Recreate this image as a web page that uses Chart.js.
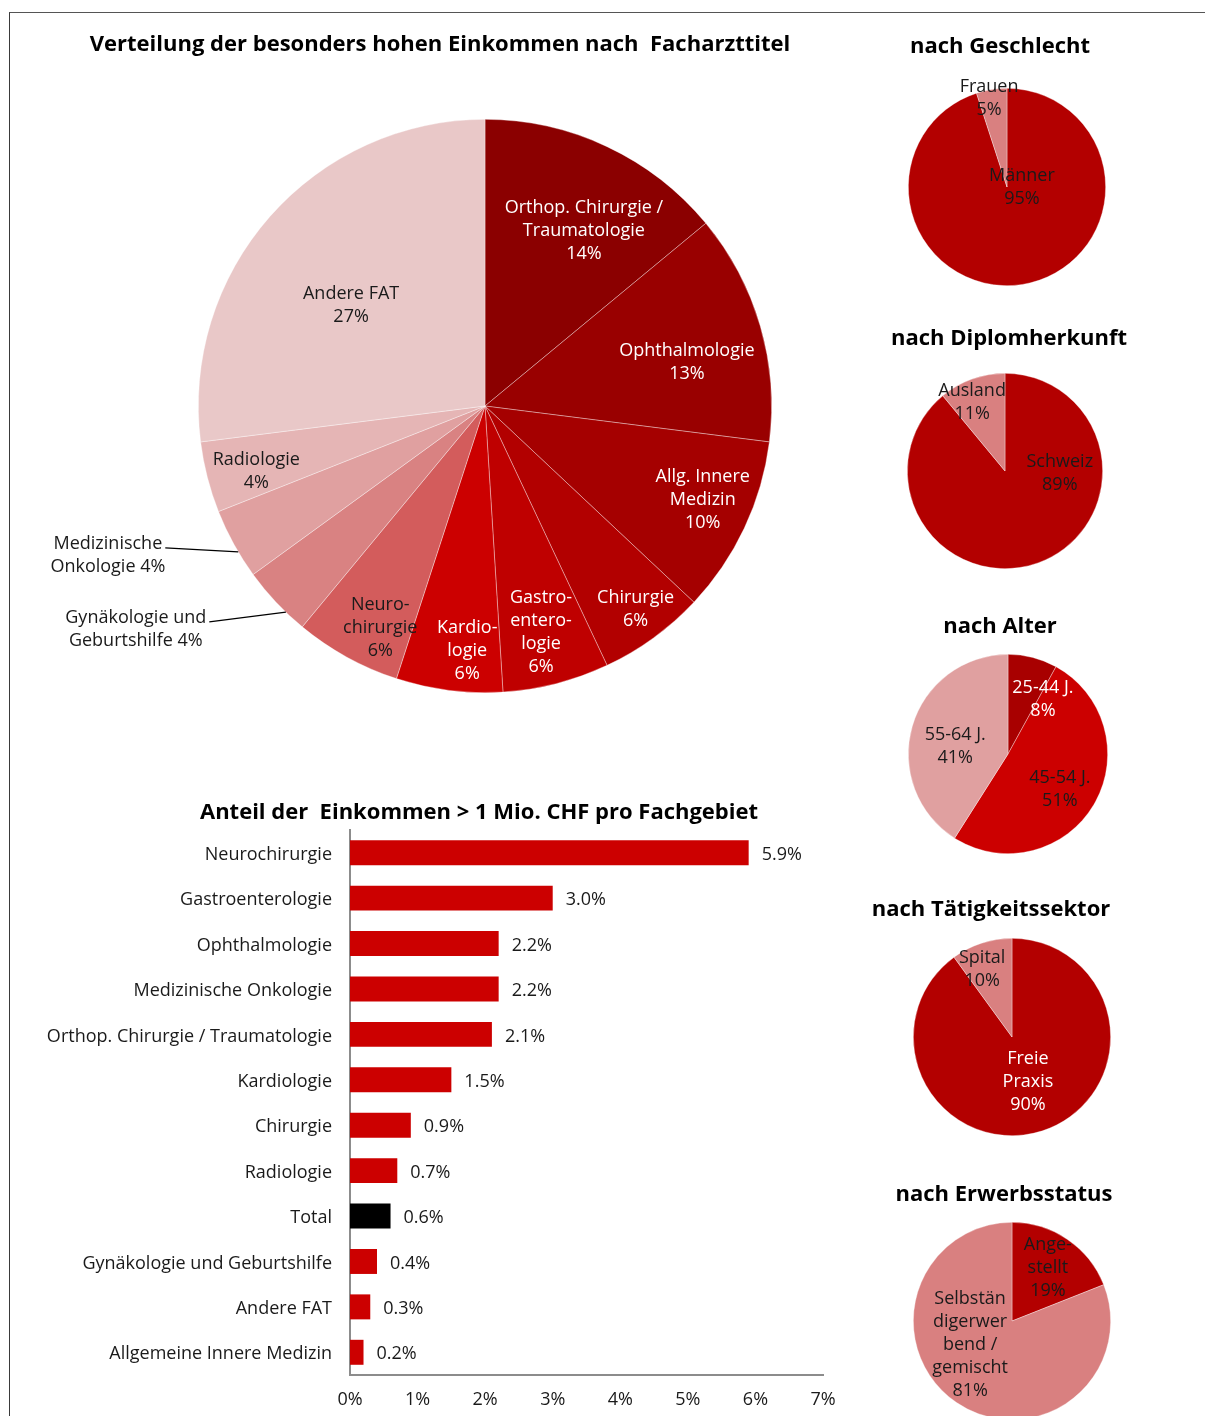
<!DOCTYPE html>
<html lang="de">
<head>
<meta charset="utf-8">
<title>Besonders hohe Einkommen nach Facharzttitel</title>
<script src="https://cdn.jsdelivr.net/npm/chart.js@4.4.1/dist/chart.umd.min.js"></script>
<style>
  html, body { margin: 0; padding: 0; width: 1205px; height: 1416px; overflow: hidden; background: #fff; }
  #page { position: relative; width: 1205px; height: 1416px; overflow: hidden; }
  #frame { position: absolute; left: 9px; top: 12px; width: 1300px; height: 1500px;
           border-top: 1px solid #555; border-left: 1px solid #3a3a3a; }
  canvas { position: absolute; left: 0; top: 0; }
</style>
</head>
<body>
<div id="page">
  <div id="frame"></div>
  <canvas id="pieFach" width="1205" height="1430"></canvas>
  <canvas id="barFach" width="1205" height="1430"></canvas>
  <canvas id="pieGeschlecht" width="1205" height="1430"></canvas>
  <canvas id="pieDiplom" width="1205" height="1430"></canvas>
  <canvas id="pieAlter" width="1205" height="1430"></canvas>
  <canvas id="pieSektor" width="1205" height="1430"></canvas>
  <canvas id="pieErwerb" width="1205" height="1430"></canvas>
</div>
<script>
// ---- Data ---------------------------------------------------------------
const fachLabels = [
  ['Orthop. Chirurgie /', 'Traumatologie'],
  ['Ophthalmologie'],
  ['Allg. Innere', 'Medizin'],
  ['Chirurgie'],
  ['Gastro-', 'entero-', 'logie'],
  ['Kardio-', 'logie'],
  ['Neuro-', 'chirurgie'],
  ['Gynäkologie und', 'Geburtshilfe'],
  ['Medizinische', 'Onkologie'],
  ['Radiologie'],
  ['Andere FAT']
];
const fachShares = [14, 13, 10, 6, 6, 6, 6, 4, 4, 4, 27];

const barCategories = [
  'Neurochirurgie', 'Gastroenterologie', 'Ophthalmologie', 'Medizinische Onkologie',
  'Orthop. Chirurgie / Traumatologie', 'Kardiologie', 'Chirurgie', 'Radiologie',
  'Total', 'Gynäkologie und Geburtshilfe', 'Andere FAT', 'Allgemeine Innere Medizin'
];
const barValues = [5.9, 3.0, 2.2, 2.2, 2.1, 1.5, 0.9, 0.7, 0.6, 0.4, 0.3, 0.2];
const barTickMax = 7;

const geschlechtLabels = [['Männer'], ['Frauen']];
const geschlechtValues = [95, 5];

const diplomLabels = [['Schweiz'], ['Ausland']];
const diplomValues = [89, 11];

const alterLabels = [['25-44 J.'], ['45-54 J.'], ['55-64 J.']];
const alterValues = [8, 51, 41];

const sektorLabels = [['Freie', 'Praxis'], ['Spital']];
const sektorValues = [90, 10];

const erwerbLabels = [['Ange-', 'stellt'], ['Selbstän', 'digerwer', 'bend /', 'gemischt']];
const erwerbValues = [19, 81];

// ---- Shared styling -----------------------------------------------------
const FONT = '"Open Sans", "Noto Sans", "DejaVu Sans", sans-serif';
const TEXT = '#1a1a1a';
const LINE_H = 23;
const TEXT_DY = 2;      // optical centring of canvas text
const PAGE_H = 1430;
const PAGE_W = 1205;

// Draws a title and the slice labels of a pie; label placement is given
// as a fraction of the radius along the slice's middle angle (+ a small turn).
const pieLabelPlugin = {
  id: 'pieLabels',
  afterDatasetsDraw(chart, args, opts) {
    const ctx = chart.ctx;
    const meta = chart.getDatasetMeta(0);
    const values = chart.data.datasets[0].data;
    ctx.save();
    ctx.textAlign = 'center';
    ctx.textBaseline = 'middle';
    meta.data.forEach((arc, i) => {
      const p = arc.getProps(['x', 'y', 'startAngle', 'endAngle', 'outerRadius'], true);
      const place = opts.place[i];
      const a = (p.startAngle + p.endAngle) / 2 + (place.shift || 0) * Math.PI / 180;
      const pct = values[i] + '%';
      ctx.font = opts.size + 'px ' + FONT;
      if (place.leader) {
        // label outside the pie, joined by a leader line
        const ex = p.x + Math.cos(a) * p.outerRadius;
        const ey = p.y + Math.sin(a) * p.outerRadius;
        const lx = ex + place.leader[0];
        const ly = ey + place.leader[1];
        ctx.strokeStyle = '#000';
        ctx.lineWidth = 1.2;
        ctx.beginPath();
        ctx.moveTo(ex, ey);
        ctx.lineTo(lx, ly);
        ctx.stroke();
        const lines = opts.lines[i].slice();
        lines[lines.length - 1] = lines[lines.length - 1] + ' ' + pct;
        const w1 = ctx.measureText(lines[0]).width;
        const cx = lx - w1 / 2 - 3;
        ctx.fillStyle = TEXT;
        lines.forEach((t, k) => ctx.fillText(t, cx, ly - 6 + TEXT_DY + k * LINE_H));
      } else {
        const r = p.outerRadius * place.r;
        const cx = p.x + Math.cos(a) * r;
        const cy = p.y + Math.sin(a) * r;
        const lines = opts.lines[i].concat([pct]);
        const y0 = cy - (lines.length - 1) * LINE_H / 2 + TEXT_DY;
        ctx.fillStyle = place.color;
        lines.forEach((t, k) => ctx.fillText(t, cx, y0 + k * LINE_H));
      }
    });
    ctx.font = 'bold ' + opts.titleSize + 'px ' + FONT;
    ctx.fillStyle = '#000';
    ctx.fillText(opts.title, opts.titleX, opts.titleY + TEXT_DY);
    ctx.restore();
  }
};

function makePie(id, values, lines, colors, box, labelOpts) {
  return new Chart(document.getElementById(id), {
    type: 'pie',
    data: {
      labels: lines.map(l => l.join(' ')),
      datasets: [{
        data: values,
        backgroundColor: colors,
        borderColor: 'rgba(255,255,255,0.5)',
        borderWidth: 0.7
      }]
    },
    options: {
      responsive: false,
      animation: false,
      events: [],
      layout: {
        padding: {
          left: box.cx - box.r,
          top: box.cy - box.r,
          right: PAGE_W - (box.cx + box.r),
          bottom: PAGE_H - (box.cy + box.r)
        }
      },
      plugins: {
        legend: { display: false },
        tooltip: { enabled: false },
        pieLabels: Object.assign({ lines: lines, size: 18, titleSize: 22 }, labelOpts)
      }
    },
    plugins: [pieLabelPlugin]
  });
}

const W = '#ffffff', K = TEXT;

// ---- Main pie: Facharzttitel -------------------------------------------
makePie('pieFach', fachShares, fachLabels,
  ['#8b0000', '#990000', '#a50000', '#b20000', '#bf0000', '#cc0000',
   '#d35c5c', '#d98282', '#e0a0a0', '#e5b5b5', '#e9c8c8'],
  { cx: 485, cy: 406, r: 287 },
  {
    title: 'Verteilung der besonders hohen Einkommen nach  Facharzttitel',
    titleX: 440, titleY: 43,
    place: [
      { r: 0.707, shift: 4.0, color: W },
      { r: 0.722, shift: 3.5, color: W },
      { r: 0.824, shift: -2.4, color: W },
      { r: 0.877, shift: -0.8, color: W },
      { r: 0.808, shift: 0.4, color: W },
      { r: 0.849, shift: -3.0, color: W },
      { r: 0.849, shift: -3.3, color: K },
      { leader: [-76.6, 9.6], shift: -2.8 },
      { leader: [-73, -4], shift: -1.8 },
      { r: 0.828, shift: -1.1, color: K },
      { r: 0.588, shift: -4.0, color: K }
    ]
  });

// ---- Small pies --------------------------------------------------------
makePie('pieGeschlecht', geschlechtValues, geschlechtLabels,
  ['#b30000', '#d98080'],
  { cx: 1007, cy: 187, r: 99 },
  {
    title: 'nach Geschlecht', titleX: 1000, titleY: 45,
    place: [
      { r: 0.152, shift: -86.7, color: K },
      { r: 0.937, shift: -2.2, color: K }
    ]
  });

makePie('pieDiplom', diplomValues, diplomLabels,
  ['#b30000', '#d98080'],
  { cx: 1005, cy: 471, r: 98 },
  {
    title: 'nach Diplomherkunft', titleX: 1009, titleY: 337,
    place: [
      { r: 0.561, shift: -69.7, color: K },
      { r: 0.794, shift: -5.3, color: K }
    ]
  });

makePie('pieAlter', alterValues, alterLabels,
  ['#a80000', '#cc0000', '#e0a0a0'],
  { cx: 1008, cy: 754, r: 100 },
  {
    title: 'nach Alter', titleX: 1000, titleY: 625,
    place: [
      { r: 0.665, shift: 17.4, color: W },
      { r: 0.619, shift: 2.2, color: K },
      { r: 0.538, shift: -6.0, color: K }
    ]
  });

makePie('pieSektor', sektorValues, sektorLabels,
  ['#b30000', '#d98080'],
  { cx: 1012, cy: 1037, r: 99 },
  {
    title: 'nach Tätigkeitssektor', titleX: 991, titleY: 908,
    place: [
      { r: 0.463, shift: -2.4, color: W },
      { r: 0.765, shift: -5.3, color: K }
    ]
  });

makePie('pieErwerb', erwerbValues, erwerbLabels,
  ['#b30000', '#d98080'],
  { cx: 1012, cy: 1321, r: 99 },
  {
    title: 'nach Erwerbsstatus', titleX: 1004, titleY: 1193,
    place: [
      { r: 0.664, shift: -1.0, color: K },
      { r: 0.479, shift: 28.2, color: K }
    ]
  });

// ---- Bar chart: share of incomes > 1 Mio. CHF --------------------------
const barDecor = {
  id: 'barDecor',
  afterDatasetsDraw(chart) {
    const ctx = chart.ctx;
    const meta = chart.getDatasetMeta(0);
    const vals = chart.data.datasets[0].data;
    ctx.save();
    ctx.font = '18px ' + FONT;
    ctx.fillStyle = TEXT;
    ctx.textAlign = 'left';
    ctx.textBaseline = 'middle';
    meta.data.forEach((bar, i) => {
      ctx.fillText(vals[i].toFixed(1) + '%', bar.x + 13, bar.y + TEXT_DY);
    });
    ctx.font = 'bold 22px ' + FONT;
    ctx.fillStyle = '#000';
    ctx.textAlign = 'center';
    ctx.fillText('Anteil der  Einkommen > 1 Mio. CHF pro Fachgebiet', 479, 811 + TEXT_DY);
    ctx.restore();
  }
};

new Chart(document.getElementById('barFach'), {
  type: 'bar',
  data: {
    labels: barCategories,
    datasets: [{
      data: barValues,
      backgroundColor: barCategories.map(c => c === 'Total' ? '#000000' : '#cc0000'),
      categoryPercentage: 1,
      barPercentage: 0.55
    }]
  },
  options: {
    indexAxis: 'y',
    responsive: false,
    animation: false,
    events: [],
    layout: { padding: { left: 30, top: 830, right: PAGE_W - 823, bottom: PAGE_H - 1416 } },
    scales: {
      x: {
        min: 0,
        max: barTickMax,
        ticks: {
          stepSize: 1,
          callback: v => v + '%',
          font: { family: FONT, size: 18 },
          color: TEXT,
          padding: 14,
          maxRotation: 0
        },
        grid: { display: false, drawTicks: false },
        border: { display: true, color: '#8c8c8c', width: 2 },
        afterFit(s) { s.height = 41; }
      },
      y: {
        ticks: { font: { family: FONT, size: 18 }, color: TEXT, padding: 18, labelOffset: 2 },
        grid: { display: false, drawTicks: false },
        border: { display: true, color: '#8c8c8c', width: 2 },
        afterFit(s) { s.width = 320; }
      }
    },
    plugins: {
      legend: { display: false },
      tooltip: { enabled: false }
    }
  },
  plugins: [barDecor]
});
</script>
</body>
</html>
